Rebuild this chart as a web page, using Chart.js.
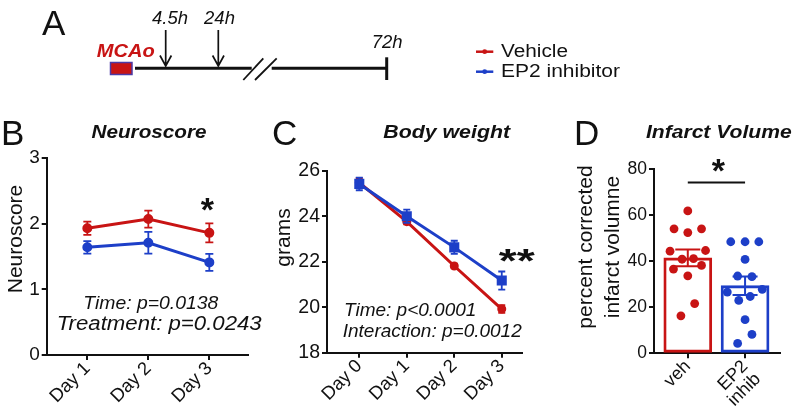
<!DOCTYPE html>
<html>
<head>
<meta charset="utf-8">
<script src="https://cdn.jsdelivr.net/npm/chart.js@4.4.1/dist/chart.umd.min.js"></script>
<style>
  body { margin: 0; background: #fff; width: 796px; height: 406px; position: relative; overflow: hidden; }
  canvas { position: absolute; }
  svg { position: absolute; left: 0; top: 0; }
  svg text { font-family: "Liberation Sans", Arial, sans-serif; fill: #111; }
</style>
</head>
<body>
<canvas id="neuro" width="270" height="296" style="left:0;top:110px"></canvas>
<canvas id="weight" width="260" height="296" style="left:270px;top:110px"></canvas>
<canvas id="infarct" width="266" height="296" style="left:530px;top:110px"></canvas>

<svg width="796" height="406">
  <!-- panel letters -->
  <text x="42" y="35" font-size="35">A</text>
  <text x="1" y="145" font-size="35">B</text>
  <text x="272" y="145" font-size="35">C</text>
  <text x="574" y="145" font-size="35">D</text>

  <!-- A: timeline -->
  <text x="170" y="23.5" font-size="18.5" font-style="italic" text-anchor="middle">4.5h</text>
  <text x="219.5" y="23.5" font-size="18.5" font-style="italic" text-anchor="middle">24h</text>
  <text x="371.7" y="48.3" font-size="18.5" font-style="italic">72h</text>
  <text x="96.7" y="57.3" font-size="17.5" font-weight="bold" font-style="italic" style="fill:#c81414" textLength="58" lengthAdjust="spacingAndGlyphs">MCAo</text>
  <rect x="110.5" y="62.5" width="21.5" height="12" fill="#c81414" stroke="#4b3aa6" stroke-width="1.5"/>
  <g stroke="#111" fill="none">
    <line x1="135" y1="68.3" x2="251.7" y2="68.3" stroke-width="3"/>
    <line x1="271.7" y1="68.3" x2="386.7" y2="68.3" stroke-width="3"/>
    <line x1="386.7" y1="57.3" x2="386.7" y2="80" stroke-width="3"/>
    <line x1="243.3" y1="80" x2="263.3" y2="58.3" stroke-width="1.8"/>
    <line x1="255" y1="80" x2="276.7" y2="58.3" stroke-width="1.8"/>
    <path d="M165.7 30 V66 M160 55.5 L165.7 66 L171.4 55.5" stroke-width="1.7"/>
    <path d="M218.3 30 V66 M212.6 55.5 L218.3 66 L224 55.5" stroke-width="1.7"/>
  </g>

  <!-- legend -->
  <line x1="476" y1="51.7" x2="493.3" y2="51.7" stroke="#c81414" stroke-width="2.5"/>
  <circle cx="484.7" cy="51.7" r="2.4" fill="#c81414"/>
  <text x="501" y="56.8" font-size="18" textLength="67" lengthAdjust="spacingAndGlyphs">Vehicle</text>
  <line x1="476" y1="71.7" x2="493.3" y2="71.7" stroke="#1d3fc8" stroke-width="2.5"/>
  <circle cx="484.7" cy="71.7" r="2.4" fill="#1d3fc8"/>
  <text x="501" y="77.3" font-size="18" textLength="119" lengthAdjust="spacingAndGlyphs">EP2 inhibitor</text>

  <!-- panel titles -->
  <text x="149" y="138.3" font-size="19" font-weight="bold" font-style="italic" text-anchor="middle" textLength="115" lengthAdjust="spacingAndGlyphs">Neuroscore</text>
  <text x="446.7" y="138.3" font-size="19" font-weight="bold" font-style="italic" text-anchor="middle" textLength="126.7" lengthAdjust="spacingAndGlyphs">Body weight</text>
  <text x="718.8" y="138.3" font-size="19" font-weight="bold" font-style="italic" text-anchor="middle" textLength="145.7" lengthAdjust="spacingAndGlyphs">Infarct Volume</text>

  <!-- y axis titles -->
  <text transform="translate(21.5,239) rotate(-90)" font-size="21" text-anchor="middle">Neuroscore</text>
  <text transform="translate(290,237.5) rotate(-90)" font-size="21" text-anchor="middle">grams</text>
  <text transform="translate(592,247) rotate(-90)" font-size="21" text-anchor="middle">percent corrected</text>
  <text transform="translate(618.5,247) rotate(-90)" font-size="21" text-anchor="middle">infarct volumne</text>

  <!-- statistics -->
  <text x="83.3" y="308.5" font-size="19" font-style="italic" textLength="135" lengthAdjust="spacingAndGlyphs">Time: p=0.0138</text>
  <text x="56.7" y="330" font-size="19.5" font-style="italic" textLength="205" lengthAdjust="spacingAndGlyphs">Treatment: p=0.0243</text>
  <text x="344" y="316" font-size="19" font-style="italic">Time: p&lt;0.0001</text>
  <text x="342.7" y="337" font-size="19" font-style="italic">Interaction: p=0.0012</text>
  <text x="207.4" y="221.4" font-size="34" font-weight="bold" text-anchor="middle">*</text>
  <text x="516.7" y="272" font-size="34" font-weight="bold" text-anchor="middle" textLength="36" lengthAdjust="spacingAndGlyphs">**</text>
  <text x="718.3" y="181.5" font-size="34" font-weight="bold" text-anchor="middle">*</text>
</svg>

<script>
// ---- data ----
const neuroDays = [1, 2, 3];
const neuroDayLabels = ['Day 1', 'Day 2', 'Day 3'];
const neuroVehicle = [1.93, 2.07, 1.86];
const neuroVehicleSem = [0.10, 0.13, 0.145];
const neuroEp2 = [1.64, 1.71, 1.41];
const neuroEp2Sem = [0.095, 0.165, 0.13];

const weightDays = [0, 1, 2, 3];
const weightDayLabels = ['Day 0', 'Day 1', 'Day 2', 'Day 3'];
const weightVehicle = [25.47, 23.76, 21.81, 19.92];
const weightVehicleSem = [0.2, 0.12, 0.1, 0.17];
const weightEp2 = [25.42, 24.0, 22.63, 21.17];
const weightEp2Sem = [0.28, 0.29, 0.29, 0.4];

const infarctGroups = ['veh', ['EP2', 'inhib']];
const infarctMeans = [41.5, 29.4];
const infarctSem = [3.6, 4.0];
const vehPoints = [61.9, 54.1, 52.5, 54.1, 44.4, 44.7, 40.9, 41.2, 36.6, 38.2, 33.7, 21.6, 16.3];
const vehJitter = [0, -0.24, 0, 0.24, -0.31, 0.31, -0.1, 0.1, -0.25, 0.24, 0, 0.12, -0.12];
const ep2Points = [48.5, 48.5, 48.5, 40.8, 33.6, 33.3, 26.6, 27.8, 23.0, 24.7, 14.6, 8.2, 4.3];
const ep2Jitter = [-0.25, 0, 0.24, 0, -0.13, 0.12, -0.31, 0.30, -0.11, 0.09, 0, 0.12, -0.13];

// ---- style ----
const red = '#c81414';
const blue = '#1d3fc8';
const ink = '#111';

Chart.defaults.font.family = '"Liberation Sans", Arial, sans-serif';
Chart.defaults.color = ink;
Chart.defaults.animation = false;

// SEM bars for any dataset carrying a "sem" array
const errorBars = {
  id: 'errorBars',
  afterDatasetDraw(chart, args) {
    const ds = chart.data.datasets[args.index];
    if (!ds.sem) return;
    const ctx = chart.ctx;
    const y = chart.scales.y;
    ctx.save();
    ctx.lineWidth = ds.errorWidth || 1.8;
    args.meta.data.forEach((el, i) => {
      const d = ds.data[i];
      const v = typeof d === 'object' ? d.y : d;
      const top = y.getPixelForValue(v + ds.sem[i]);
      const bot = y.getPixelForValue(v - ds.sem[i]);
      const c = ds.capHalf || 4;
      ctx.strokeStyle = Array.isArray(ds.errorColor) ? ds.errorColor[i] : (ds.errorColor || ds.borderColor);
      ctx.beginPath();
      ctx.moveTo(el.x, top); ctx.lineTo(el.x, bot);
      ctx.moveTo(el.x - c, top); ctx.lineTo(el.x + c, top);
      ctx.moveTo(el.x - c, bot); ctx.lineTo(el.x + c, bot);
      ctx.stroke();
    });
    ctx.restore();
  }
};

// comparison bar above the groups
const sigBar = {
  id: 'sigBar',
  afterDatasetsDraw(chart, args, opts) {
    if (opts.level === undefined) return;
    const ctx = chart.ctx;
    const x = chart.scales.x, y = chart.scales.y;
    const py = y.getPixelForValue(opts.level);
    ctx.save();
    ctx.strokeStyle = ink;
    ctx.lineWidth = 2;
    ctx.beginPath();
    ctx.moveTo(x.getPixelForValue(opts.from), py);
    ctx.lineTo(x.getPixelForValue(opts.to), py);
    ctx.stroke();
    ctx.restore();
  }
};

function axisX(at, labels, min, max, size, h) {
  return {
    type: 'linear', min, max, offset: false,
    afterBuildTicks: s => { s.ticks = at.map(v => ({ value: v })); },
    afterFit: s => { s.height = h; },
    grid: { drawOnChartArea: false, tickLength: 5, color: ink, lineWidth: 2, offset: false },
    border: { color: ink, width: 2 },
    ticks: { autoSkip: false, minRotation: 45, maxRotation: 45, padding: -1, color: ink,
      font: { size, lineHeight: 1.0 }, callback: (v, i) => labels[i] }
  };
}

function axisY(min, max, step, size, w) {
  return {
    min, max,
    afterFit: s => { s.width = w; },
    grid: { drawOnChartArea: false, tickLength: 5, color: ink, lineWidth: 2 },
    border: { color: ink, width: 2 },
    ticks: { stepSize: step, padding: 2, color: ink, font: { size } }
  };
}

function pts(xs, ys) { return xs.map((x, i) => ({ x, y: ys[i] })); }

// B: neuroscore
new Chart(document.getElementById('neuro'), {
  type: 'line',
  data: {
    datasets: [
      { label: 'Vehicle', data: pts(neuroDays, neuroVehicle), sem: neuroVehicleSem,
        borderColor: red, backgroundColor: red, borderWidth: 3, pointRadius: 3.5, capHalf: 4, order: 2 },
      { label: 'EP2 inhibitor', data: pts(neuroDays, neuroEp2), sem: neuroEp2Sem,
        borderColor: blue, backgroundColor: blue, borderWidth: 3, pointRadius: 3.5, capHalf: 4, order: 1 }
    ]
  },
  options: {
    responsive: false,
    layout: { padding: { left: 0, top: 48, right: 22, bottom: 0 } },
    plugins: { legend: { display: false }, tooltip: { enabled: false } },
    scales: {
      x: axisX(neuroDays, neuroDayLabels, 0.334, 3.634, 18.5, 51),
      y: axisY(0, 3, 1, 19, 46.7)
    }
  },
  plugins: [errorBars]
});

// C: body weight
new Chart(document.getElementById('weight'), {
  type: 'line',
  data: {
    datasets: [
      { label: 'Vehicle', data: pts(weightDays, weightVehicle), sem: weightVehicleSem,
        borderColor: red, backgroundColor: red, borderWidth: 3, pointRadius: 3, capHalf: 3.5, order: 2 },
      { label: 'EP2 inhibitor', data: pts(weightDays, weightEp2), sem: weightEp2Sem,
        borderColor: blue, backgroundColor: blue, borderWidth: 3, pointRadius: 5, pointStyle: 'rect', capHalf: 3.5, order: 1 }
    ]
  },
  options: {
    responsive: false,
    layout: { padding: { left: 0, top: 60.7, right: 8.3, bottom: 0 } },
    plugins: { legend: { display: false }, tooltip: { enabled: false } },
    scales: {
      x: axisX(weightDays, weightDayLabels, -0.68, 3.42, 18.5, 53.3),
      y: axisY(18, 26, 2, 19.5, 57)
    }
  },
  plugins: [errorBars]
});

// D: infarct volume
const groupX = infarctGroups.map((g, i) => i);
new Chart(document.getElementById('infarct'), {
  type: 'bar',
  data: {
    datasets: [
      { type: 'bar', data: pts(groupX, infarctMeans), sem: infarctSem,
        backgroundColor: 'rgba(255,255,255,0)', borderColor: [red, blue], errorColor: [red, blue],
        borderWidth: 2.2, borderSkipped: false, barThickness: 48, capHalf: 12.5, errorWidth: 2, order: 2 },
      { type: 'scatter', data: vehPoints.map((v, i) => ({ x: groupX[0] + vehJitter[i], y: v })),
        backgroundColor: red, borderWidth: 0, pointRadius: 4.4, order: 1 },
      { type: 'scatter', data: ep2Points.map((v, i) => ({ x: groupX[1] + ep2Jitter[i], y: v })),
        backgroundColor: blue, borderWidth: 0, pointRadius: 4.4, order: 1 }
    ]
  },
  options: {
    responsive: false,
    layout: { padding: { left: 0, top: 59.3, right: 16, bottom: 0 } },
    plugins: { legend: { display: false }, tooltip: { enabled: false },
      sigBar: { from: 0, to: 1, level: 74.3 } },
    scales: {
      x: axisX(groupX, infarctGroups, -0.59, 1.61, 18, 52.7),
      y: axisY(0, 80, 20, 17.5, 124)
    }
  },
  plugins: [errorBars, sigBar]
});
</script>
</body>
</html>
